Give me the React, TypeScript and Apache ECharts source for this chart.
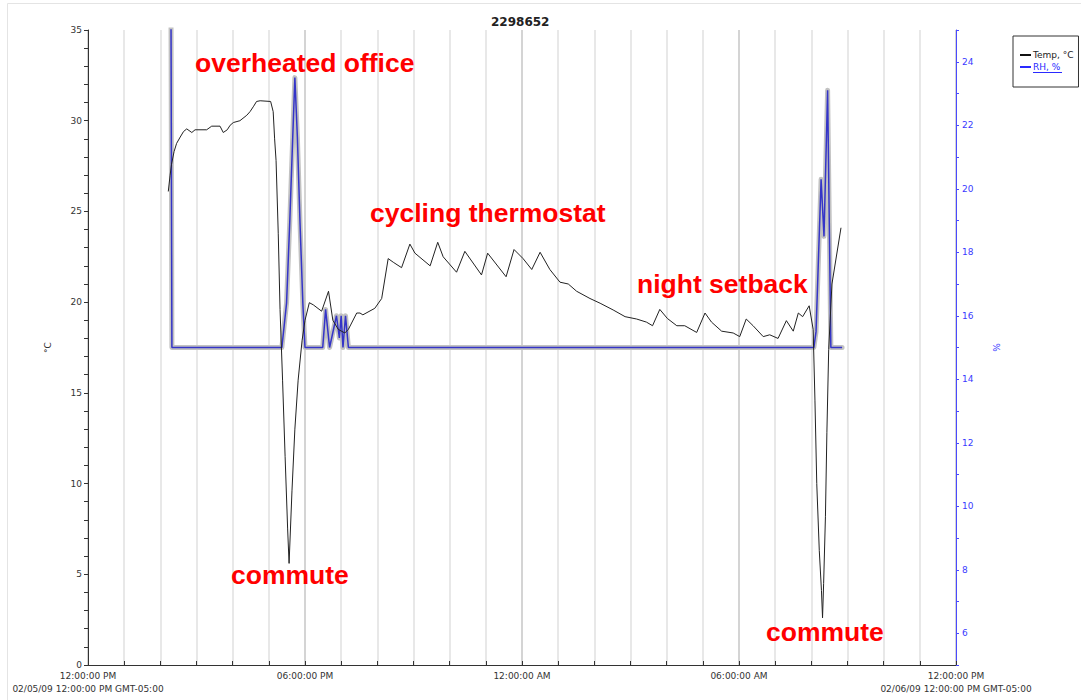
import React, { useEffect, useRef } from "react";
import * as echarts from "echarts";

// ---- data ----
const chartTitle = "2298652";
const seriesNames = ["Temp, °C", "RH, %"];
const xLabelHours = [0, 6, 12, 18, 24];
const xLabelTexts = [
  "12:00:00 PM\n02/05/09 12:00:00 PM GMT-05:00",
  "06:00:00 PM",
  "12:00:00 AM",
  "06:00:00 AM",
  "12:00:00 PM\n02/06/09 12:00:00 PM GMT-05:00",
];

// hours since 12:00 PM 02/05/09
const tempTime = [
  2.22, 2.27, 2.31, 2.38, 2.45, 2.55, 2.64, 2.73, 2.87, 2.96, 3.28, 3.42, 3.65, 3.74, 3.85, 3.93,
  4.02, 4.2, 4.39, 4.48, 4.58, 4.66, 4.76, 5.05, 5.12, 5.16, 5.2, 5.26, 5.31, 5.38, 5.45, 5.52,
  5.56, 5.64, 5.72, 5.81, 5.92, 6.0, 6.12, 6.23, 6.46, 6.65, 6.77, 6.92, 7.1, 7.2, 7.43, 7.52,
  7.6, 7.93, 8.12, 8.3, 8.44, 8.67, 8.9, 9.04, 9.46, 9.67, 9.82, 10.19, 10.42, 10.88, 11.05, 11.56,
  11.78, 12.03, 12.27, 12.5, 12.77, 13.05, 13.28, 13.51, 13.88, 14.16, 14.52, 14.85, 15.17, 15.44,
  15.61, 15.81, 16.02, 16.28, 16.5, 16.83, 17.06, 17.24, 17.52, 17.84, 18.02, 18.2, 18.39, 18.67,
  18.85, 19.08, 19.31, 19.5, 19.64, 19.76, 19.94, 20.05, 20.1, 20.15, 20.22, 20.28, 20.31, 20.34,
  20.39, 20.43, 20.48, 20.57, 20.82,
];
const tempValue = [
  26.1, 27.0, 27.6, 28.3, 28.75, 29.1, 29.4, 29.55, 29.35, 29.5, 29.5, 29.7, 29.7, 29.35, 29.5, 29.75,
  29.9, 30.0, 30.3, 30.5, 30.8, 31.06, 31.1, 31.06, 30.5, 29.0, 27.8, 23.8, 19.6, 15.7, 11.5, 7.5,
  5.6, 9.6, 13.0, 15.7, 17.9, 19.0, 19.97, 19.85, 19.5, 20.6, 19.0, 18.5, 18.3, 18.5, 19.4, 19.4,
  19.3, 19.66, 20.2, 22.4, 22.2, 21.9, 23.2, 22.7, 22.0, 23.3, 22.5, 21.65, 22.8, 21.5, 22.7, 21.4,
  22.9, 22.4, 21.8, 22.75, 21.8, 21.1, 21.0, 20.6, 20.2, 19.94, 19.57, 19.2, 19.07, 18.9,
  18.7, 19.6, 19.1, 18.7, 18.7, 18.33, 19.4, 18.9, 18.4, 18.3, 18.1, 19.07, 18.7, 18.1,
  18.2, 18.0, 18.98, 18.4, 19.4, 19.2, 19.8, 18.5, 14.6, 10.0, 6.3, 4.1, 2.6, 4.5,
  8.2, 12.8, 17.4, 21.0, 24.1,
];

const rhTime = [
  2.26, 2.32, 5.36, 5.49, 5.58, 5.66, 5.72, 5.79, 5.86, 5.94, 6.0, 6.49, 6.57, 6.68, 6.87, 6.95,
  7.0, 7.05, 7.12, 7.2, 20.07, 20.13, 20.27, 20.35, 20.45, 20.54, 20.85,
];
const rhValue = [
  40, 15, 15, 16.4, 19.0, 21.6, 23.5, 21.6, 19.0, 16.4, 15, 15, 16.2, 15, 16.0, 15.3,
  16.0, 15, 16.0, 15, 15, 15.5, 20.3, 18.5, 23.1, 15, 15,
];

const annotationTexts = ["overheated office", "cycling thermostat", "night setback", "commute", "commute"];

export default function App() {
  const ref = useRef<HTMLDivElement | null>(null);

  useEffect(() => {
    if (!ref.current) return;
    const chart = echarts.init(ref.current, undefined, { renderer: "svg" });

    const tempData = tempTime.map((t, i) => [t, tempValue[i]]);
    const rhData = rhTime.map((t, i) => [t, rhValue[i]]);
    const font = "'DejaVu Sans', Verdana, sans-serif";
    const redFont = "bold 26.5px 'Liberation Sans', Arial, sans-serif";
    const annPos = [
      [195, 63],
      [370, 213],
      [637, 284],
      [231, 575],
      [766, 632],
    ];

    const option: any = {
      animation: false,
      backgroundColor: "#ffffff",
      title: {
        text: chartTitle,
        left: 491,
        top: 16,
        padding: 0,
        textStyle: { fontFamily: font, fontSize: 12, fontWeight: "bold", color: "#222" },
      },
      legend: {
        orient: "vertical",
        left: 1013,
        top: 36,
        padding: [13, 5, 14, 7],
        itemGap: 0,
        itemWidth: 11,
        itemHeight: 2,
        icon: "rect",
        borderColor: "#333",
        borderWidth: 1,
        selectedMode: false,
        textStyle: { fontFamily: font, fontSize: 9, color: "#222", lineHeight: 12, padding: [0, 0, 0, -3] },
        data: [
          { name: seriesNames[0], itemStyle: { color: "#111" }, textStyle: { color: "#222" } },
          { name: seriesNames[1], itemStyle: { color: "#2a2aff" }, textStyle: { color: "#2a2aff" } },
        ],
      },
      grid: { left: 88, right: 125, top: 30, bottom: 35, containLabel: false },
      xAxis: {
        type: "value",
        min: 0,
        max: 24,
        interval: 1,
        axisLine: { show: true, onZero: false, lineStyle: { color: "#333", width: 1 } },
        axisTick: { show: true, inside: true, length: 4, lineStyle: { color: "#333" } },
        axisLabel: {
          fontFamily: font,
          fontSize: 9,
          color: "#333",
          lineHeight: 13,
          margin: 4,
          formatter: (v: number) => {
            const k = xLabelHours.indexOf(Math.round(v));
            return k >= 0 && Math.abs(v - Math.round(v)) < 1e-6 ? xLabelTexts[k] : "";
          },
        },
        splitLine: {
          show: true,
          lineStyle: {
            color: ["#c6c6c6", "#e0e0e0", "#e0e0e0", "#e0e0e0", "#e0e0e0", "#e0e0e0"],
            width: 1.5,
          },
        },
      },
      yAxis: [
        {
          type: "value",
          position: "left",
          min: 0,
          max: 35,
          interval: 1,
          name: "°C",
          nameLocation: "middle",
          nameGap: 36,
          nameTextStyle: { fontFamily: font, fontSize: 9, color: "#333" },
          axisLine: { show: true, onZero: false, lineStyle: { color: "#333", width: 1 } },
          axisTick: { show: true, length: 4, lineStyle: { color: "#333" } },
          axisLabel: {
            fontFamily: font,
            fontSize: 9,
            color: "#333",
            margin: 6,
            formatter: (v: number) => (v % 5 === 0 ? String(v) : ""),
          },
          splitLine: { show: false },
        },
        {
          type: "value",
          position: "right",
          min: 5,
          max: 25,
          interval: 1,
          name: "%",
          nameLocation: "middle",
          nameGap: 36,
          nameTextStyle: { fontFamily: font, fontSize: 9, color: "#3a3aff" },
          axisLine: { show: true, onZero: false, lineStyle: { color: "#4a4aff", width: 1 } },
          axisTick: { show: true, length: 3, lineStyle: { color: "#4a4aff" } },
          axisLabel: {
            fontFamily: font,
            fontSize: 9,
            color: "#3a3aff",
            margin: 6,
            formatter: (v: number) => (v % 2 === 0 ? String(v) : ""),
          },
          splitLine: { show: false },
        },
      ],
      series: [
        {
          name: "RH halo",
          type: "line",
          xAxisIndex: 0,
          yAxisIndex: 1,
          data: rhData,
          symbol: "none",
          silent: true,
          z: 2,
          lineStyle: { color: "#c2c2c2", width: 5, join: "round", cap: "round" },
        },
        {
          name: seriesNames[1],
          type: "line",
          xAxisIndex: 0,
          yAxisIndex: 1,
          data: rhData,
          symbol: "none",
          z: 3,
          itemStyle: { color: "#3434c8" },
          lineStyle: { color: "#3434c8", width: 1.5 },
        },
        {
          name: seriesNames[0],
          type: "line",
          xAxisIndex: 0,
          yAxisIndex: 0,
          data: tempData,
          symbol: "none",
          z: 4,
          itemStyle: { color: "#222" },
          lineStyle: { color: "#222", width: 1 },
        },
      ],
      graphic: [
        {
          type: "polyline",
          silent: true,
          shape: { points: [[7.5, 700], [7.5, 3.5], [1081, 3.5]] },
          style: { fill: "none", stroke: "#e4e4e4", lineWidth: 1 },
        },
        {
          type: "line",
          silent: true,
          shape: { x1: 1033, y1: 72.5, x2: 1062, y2: 72.5 },
          style: { stroke: "#2a2aff", lineWidth: 1 },
        },
        ...annotationTexts.map((t, i) => ({
          type: "text",
          silent: true,
          x: annPos[i][0],
          y: annPos[i][1],
          z: 10,
          style: {
            text: t,
            font: redFont,
            fill: "#ff0000",
            textAlign: "left",
            align: "left",
            textVerticalAlign: "middle",
            verticalAlign: "middle",
          },
        })),
      ],
    };

    chart.setOption(option);
    return () => {
      chart.dispose();
    };
  }, []);

  return (
    <div
      ref={ref}
      style={{ position: "absolute", left: 0, top: 0, width: 1081, height: 700 }}
    />
  );
}
